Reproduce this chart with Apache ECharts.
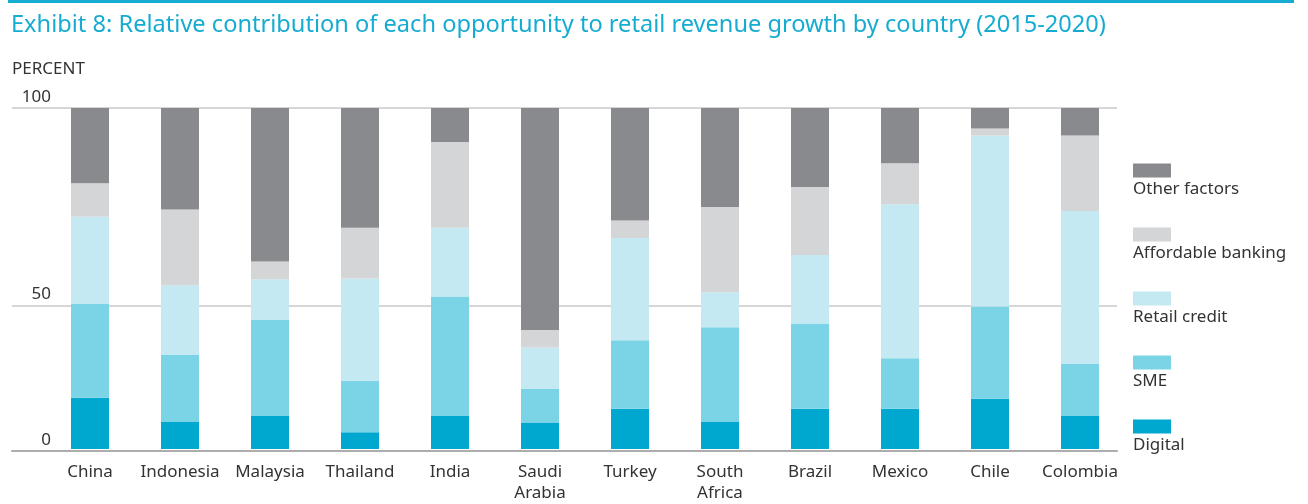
<!DOCTYPE html>
<html>
<head>
<meta charset="utf-8">
<script src="https://cdn.jsdelivr.net/npm/echarts@6/dist/echarts.min.js"></script>
<style>
  html, body { margin: 0; padding: 0; background: #fff; }
  #chart { width: 1308px; height: 504px; }
</style>
</head>
<body>
<div id="chart"></div>
<script>
var countries = ['China', 'Indonesia', 'Malaysia', 'Thailand', 'India', 'Saudi\nArabia',
                 'Turkey', 'South\nAfrica', 'Brazil', 'Mexico', 'Chile', 'Colombia'];

// share of retail revenue growth, percent (bottom to top of each bar)
var digital    = [15.0,  8.1,  9.7,  4.9,  9.7,  7.8, 11.8,  8.1, 11.8, 11.8, 14.7,  9.7];
var sme        = [27.7, 19.5, 28.1, 15.1, 35.0,  9.8, 20.1, 27.6, 25.0, 14.8, 27.1, 15.2];
var retail     = [25.4, 20.4, 12.0, 30.0, 20.2, 12.2, 30.0, 10.3, 20.1, 45.2, 50.1, 44.9];
var affordable = [ 9.8, 22.2,  5.2, 14.9, 25.1,  5.1,  5.1, 25.0, 19.9, 12.0,  2.1, 22.1];
var other      = [22.1, 29.8, 45.0, 35.1, 10.0, 65.1, 33.0, 29.0, 23.2, 16.2,  6.0,  8.1];

// the printed "50" gridline sits at ~42% of the bar height in the original
var yTickValues = [0, 42.4, 100];
var yTickLabels = ['0', '50', '100'];

var seriesNames = ['Digital', 'SME', 'Retail credit', 'Affordable banking', 'Other factors'];
var seriesData = [digital, sme, retail, affordable, other];
var colors = ['#00a8cf', '#7bd4e6', '#c4e9f2', '#d4d5d7', '#898a8e'];

var FONT = '"Noto Sans", "Open Sans", sans-serif';

var chart = echarts.init(document.getElementById('chart'));

var series = seriesNames.map(function (name, i) {
    return {
        name: name,
        type: 'bar',
        stack: 'total',
        xAxisIndex: 1,
        yAxisIndex: 1,
        barWidth: 38,
        itemStyle: { color: colors[i] },
        data: seriesData[i]
    };
});

var option = {
    animation: false,
    textStyle: { fontFamily: FONT },
    title: {
        text: 'Exhibit 8: Relative contribution of each opportunity to retail revenue growth by country (2015-2020)',
        left: 6,
        top: 8,
        textStyle: { fontSize: 23.6, fontWeight: 'normal', color: '#16acd2', fontFamily: FONT }
    },
    graphic: [{
        type: 'rect',
        shape: { x: 8, y: 0, width: 1286, height: 3 },
        style: { fill: '#16acd2' }
    }],
    legend: {
        data: ['Other factors', 'Affordable banking', 'Retail credit', 'SME', 'Digital'],
        orient: 'vertical',
        left: 1128,
        top: 137,
        itemWidth: 38,
        itemHeight: 14,
        itemGap: 7,
        icon: 'rect',
        selectedMode: false,
        // two empty lines push the label under its swatch
        formatter: function (name) { return '\n\n' + name; },
        textStyle: {
            fontSize: 17,
            color: '#333',
            lineHeight: 19,
            padding: [0, 0, 0, -43]
        }
    },
    grid: [
        { left: 12, right: 191, top: 108, bottom: 53 },
        { left: 45, right: 183, top: 108, bottom: 53 }
    ],
    xAxis: [{
        gridIndex: 0,
        type: 'category',
        data: [''],
        axisTick: { show: false },
        axisLabel: { show: false },
        axisLine: { lineStyle: { color: '#adadad', width: 2 } }
    }, {
        gridIndex: 1,
        type: 'category',
        data: countries,
        axisTick: { show: false },
        axisLine: { show: false },
        axisLabel: {
            color: '#333',
            fontSize: 17,
            lineHeight: 21,
            margin: 13,
            interval: 0
        }
    }],
    yAxis: [{
        gridIndex: 0,
        type: 'value',
        min: 0,
        max: 100,
        name: 'PERCENT',
        nameLocation: 'end',
        nameGap: 30,
        nameTextStyle: { align: 'left', fontSize: 17, color: '#333' },
        axisLine: { show: false },
        axisTick: { show: false, customValues: yTickValues },
        axisLabel: {
            inside: true,
            align: 'right',
            verticalAlign: 'bottom',
            margin: 39,
            padding: [0, 0, 1, 0],
            lineHeight: 20,
            fontSize: 17,
            color: '#333',
            customValues: yTickValues,
            formatter: function (v) {
                return yTickLabels[yTickValues.indexOf(v)];
            }
        },
        splitLine: { show: true, lineStyle: { color: '#c8c8c8', width: 1.5 } }
    }, {
        gridIndex: 1,
        type: 'value',
        min: 0,
        max: 100,
        show: false,
        splitLine: { show: false }
    }],
    series: series
};

chart.setOption(option);
</script>
</body>
</html>
